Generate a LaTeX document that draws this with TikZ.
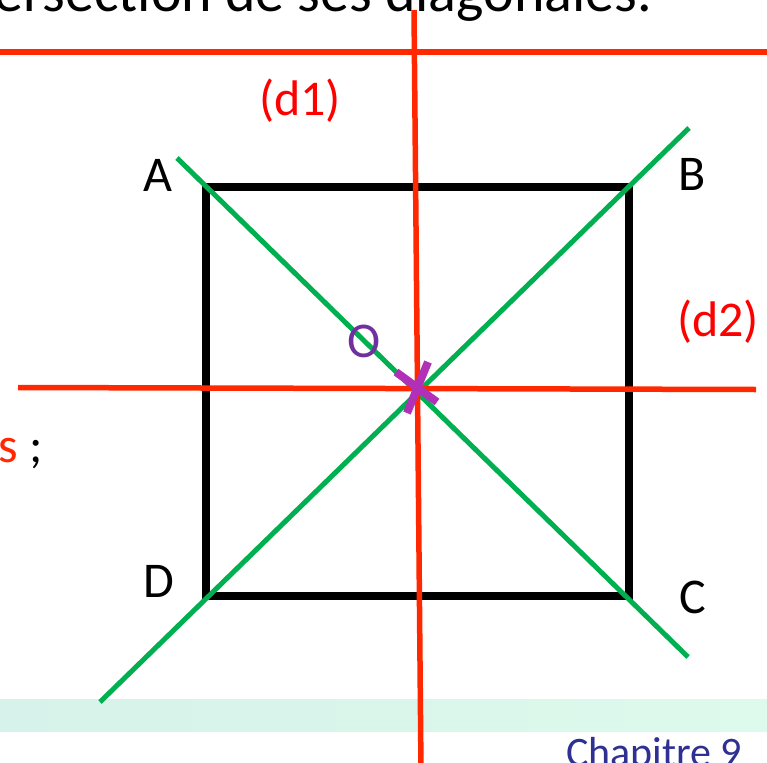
\documentclass[tikz,border=0pt]{standalone}
\usepackage{fontspec}
\setmainfont{Carlito}
\usepackage{tikz}

\definecolor{rougeD}{RGB}{255,40,0}
\definecolor{vertD}{RGB}{0,176,80}
\definecolor{violetO}{RGB}{112,48,160}
\definecolor{magentaX}{RGB}{176,48,184}
\definecolor{bleuChap}{RGB}{46,49,146}
\definecolor{bandeauG}{RGB}{214,242,234}
\definecolor{bandeauD}{RGB}{222,250,236}

\tikzset{
  droite/.style={draw=rougeD, line width=5.5bp},
  diag/.style={draw=vertD, line width=5bp},
  carre/.style={draw=black, line width=8bp},
  croix/.style={draw=magentaX, line width=8bp},
  sommet/.style={font=\fontsize{50bp}{60bp}\selectfont, anchor=base, inner sep=0pt},
  nomdroite/.style={sommet, text=red}
}

\begin{document}
\begin{tikzpicture}[x=1bp,y=-1bp]
  \useasboundingbox (0,0) rectangle (767,763);
  \clip (0,0) rectangle (767,763);

  % bandeau du bas
  \shade[left color=bandeauG, right color=bandeauD] (0,699) rectangle (767,731);

  % textes de la diapositive
  \node[font=\fontsize{58bp}{70bp}\selectfont, anchor=base east, inner sep=0pt] (titre) at (652,12) {ersection de ses diagonales.};
  \node[sommet, anchor=base west] (reste) at (-1.5,462) {\textcolor{rougeD}{s} ;};
  \node[font=\fontsize{42bp}{50bp}\selectfont, text=bleuChap, anchor=base west, inner sep=0pt] (chap) at (566,766) {Chapitre 9};

  % sommets du carre
  \coordinate (A) at (206,187);
  \coordinate (B) at (629,187);
  \coordinate (C) at (629,596);
  \coordinate (D) at (206,596);
  \draw[carre] (A) -- (B) -- (C) -- (D) -- cycle;

  % diagonales
  \coordinate (ac1) at (177,158);
  \coordinate (ac2) at (688,657);
  \coordinate (db1) at (100,702);
  \coordinate (db2) at (689,128);
  \draw[diag] (ac1) -- (ac2);
  \draw[diag] (db1) -- (db2);

  % axes de symetrie
  \coordinate (h1) at (-5,52);
  \coordinate (h2) at (772,52);
  \coordinate (v1) at (414,10);
  \coordinate (v2) at (421,770);
  \coordinate (d2a) at (18,387.5);
  \coordinate (d2b) at (756,389.5);
  \draw[droite] (h1) -- (h2);
  \draw[droite] (v1) -- (v2);
  \draw[droite] (d2a) -- (d2b);

  % centre
  \coordinate (x1) at (396,372);
  \coordinate (x2) at (437,402);
  \coordinate (x3) at (428,362);
  \coordinate (x4) at (407,413);
  \draw[croix] (x1) -- (x2);
  \draw[croix] (x3) -- (x4);

  % etiquettes
  \node[sommet] (labA) at (157.5,191) {A};
  \node[sommet] (labB) at (692,190) {B};
  \node[sommet] (labC) at (693,613) {C};
  \node[sommet] (labD) at (159,597) {D};
  \node[sommet, text=violetO] (labO) at (364,357) {O};
  \node[nomdroite] (labd1) at (300,115) {(d1)};
  \node[nomdroite] (labd2) at (718,336) {(d2)};
\end{tikzpicture}
\end{document}
